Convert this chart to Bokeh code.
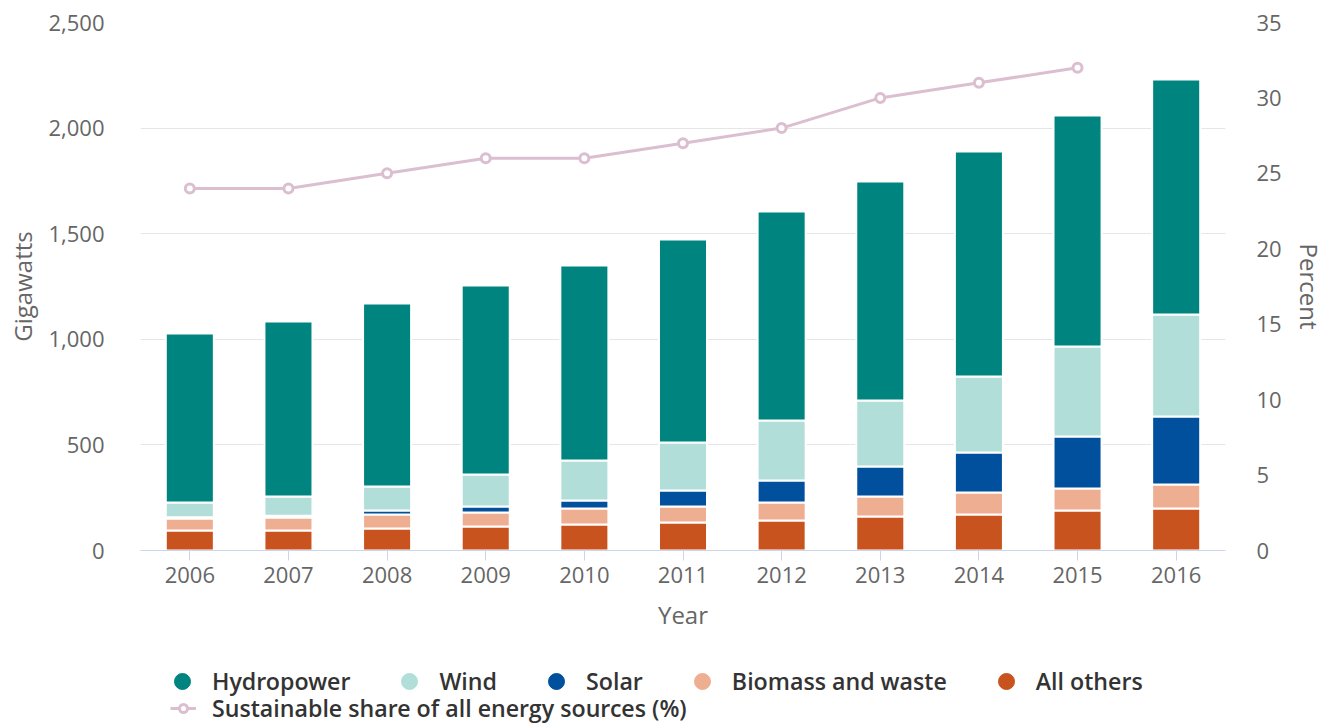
from bokeh.plotting import figure
from bokeh.models import (ColumnDataSource, FactorRange, Range1d, LinearAxis, SingleIntervalTicker,
                          NumeralTickFormatter, Legend, LegendItem)
from bokeh.layouts import column
from bokeh.embed import file_html
from bokeh.resources import INLINE

years = ["2006", "2007", "2008", "2009", "2010", "2011", "2012", "2013", "2014", "2015", "2016"]
all_others = [95, 95, 104, 114, 123, 133, 142, 161, 170, 189, 199]
biomass = [56, 61, 66, 66, 76, 75, 85, 95, 105, 105, 114]
solar = [6, 8, 19, 28, 38, 76, 104, 142, 189, 246, 321]
wind = [70, 92, 114, 152, 189, 227, 285, 312, 360, 426, 483]
hydropower = [800, 828, 867, 895, 923, 962, 989, 1037, 1065, 1094, 1113]

share_years = ["2006", "2007", "2008", "2009", "2010", "2011", "2012", "2013", "2014", "2015"]
share_pct = [24, 24, 25, 26, 26, 27, 28, 30, 31, 32]

series_names = ["All others", "Biomass and waste", "Solar", "Wind", "Hydropower"]
series_colors = ["#c8531f", "#edae92", "#00509d", "#b2ded9", "#00847f"]
line_color = "#dbbfd0"
share_label = "Sustainable share of all energy sources (%)"

FONT = "Open Sans"
LEGEND_FONT = "'Open Sans SemiBold', 'Open Sans Semibold', 'Open Sans'"

source = ColumnDataSource(dict(year=years, others=all_others, biomass=biomass,
                               solar=solar, wind=wind, hydro=hydropower))

p = figure(x_range=FactorRange(*years), y_range=Range1d(0, 2500),
           width=1331, height=650, output_backend="svg", toolbar_location=None,
           min_border_left=140, min_border_right=106, min_border_top=22, min_border_bottom=100)
p.outline_line_color = None
p.background_fill_color = "white"
p.extra_y_ranges = {"pct": Range1d(0, 35)}

stack_keys = ["others", "biomass", "solar", "wind", "hydro"]
p.vbar_stack(stack_keys, x="year", width=0.487, color=series_colors, source=source,
             line_color="white", line_width=2)

p.line(x=share_years, y=share_pct, y_range_name="pct", line_color=line_color, line_width=3)
p.scatter(x=share_years, y=share_pct, y_range_name="pct", size=9, marker="circle",
          fill_color="white", line_color=line_color, line_width=3)

# grid
p.xgrid.grid_line_color = None
p.ygrid.grid_line_color = "#e6e6e6"
p.ygrid.grid_line_width = 1
p.yaxis.ticker = SingleIntervalTicker(interval=500)
p.ygrid.ticker = SingleIntervalTicker(interval=500)

# left axis
ly = p.yaxis[0]
ly.formatter = NumeralTickFormatter(format="0,0")
ly.axis_line_color = None
ly.major_tick_line_color = None
ly.minor_tick_line_color = None
ly.major_tick_out = 0
ly.major_label_standoff = 32
ly.major_label_text_font = FONT
ly.major_label_text_font_size = "22px"
ly.major_label_text_color = "#666666"
ly.axis_label = "Gigawatts"
ly.axis_label_text_font = FONT
ly.axis_label_text_font_size = "24px"
ly.axis_label_text_font_style = "normal"
ly.axis_label_text_color = "#666666"
ly.axis_label_standoff = 6

# right axis
ry = LinearAxis(y_range_name="pct", ticker=SingleIntervalTicker(interval=5), axis_label="Percent")
ry.axis_line_color = None
ry.major_tick_line_color = None
ry.minor_tick_line_color = None
ry.major_tick_out = 0
ry.major_label_standoff = 27
ry.major_label_text_font = FONT
ry.major_label_text_font_size = "22px"
ry.major_label_text_color = "#666666"
ry.axis_label_text_font = FONT
ry.axis_label_text_font_size = "24px"
ry.axis_label_text_font_style = "normal"
ry.axis_label_text_color = "#666666"
ry.axis_label_standoff = 8
p.add_layout(ry, "right")

# x axis
xa = p.xaxis[0]
xa.axis_line_color = "#ccd6eb"
xa.axis_line_width = 1
xa.major_tick_line_color = "#ccd6eb"
xa.major_tick_out = 10
xa.major_tick_in = 0
xa.major_label_standoff = 6
xa.major_label_text_font = FONT
xa.major_label_text_font_size = "22px"
xa.major_label_text_color = "#666666"
xa.axis_label = "Year"
xa.axis_label_text_font = FONT
xa.axis_label_text_font_size = "24px"
xa.axis_label_text_font_style = "normal"
xa.axis_label_text_color = "#666666"
xa.axis_label_standoff = 12

# ---- legend strip (separate figure below the chart) ----
lg = figure(width=1331, height=76, output_backend="svg", toolbar_location=None,
            x_range=Range1d(0, 1), y_range=Range1d(0, 1), x_axis_type=None, y_axis_type=None,
            min_border_left=140, min_border_right=106, min_border_top=0, min_border_bottom=0)
lg.outline_line_color = None
lg.xgrid.grid_line_color = None
lg.ygrid.grid_line_color = None

# off-screen placeholder renderers, used only to draw legend symbols
dummies = {}
for name, col in zip(series_names, series_colors):
    dummies[name] = lg.scatter(x=[-5], y=[-5], marker="circle", fill_color=col, line_color=col)
d_line = lg.line(x=[-5, -4], y=[-5, -5], line_color=line_color, line_width=3)
d_mark = lg.scatter(x=[-5], y=[-5], marker="circle", fill_color="white",
                    line_color=line_color, line_width=3)

legend_common = dict(padding=0, margin=0, border_line_alpha=0, background_fill_alpha=0,
                     label_text_font=LEGEND_FONT, label_text_font_size="23.2px",
                     label_text_color="#333333", label_text_font_style="normal",
                     orientation="horizontal")

order = ["Hydropower", "Wind", "Solar", "Biomass and waste", "All others"]
leg1 = Legend(items=[LegendItem(label=n, renderers=[dummies[n]]) for n in order],
              location=(22, 25), glyph_width=40, glyph_height=40, label_standoff=10,
              spacing=39, **legend_common)
leg2 = Legend(items=[LegendItem(label=share_label, renderers=[d_line, d_mark])],
              location=(30, 2), glyph_width=26, glyph_height=20, label_standoff=16,
              spacing=0, **legend_common)
lg.add_layout(leg1)
lg.add_layout(leg2)

layout = column(p, lg, spacing=0)
open("out.html", "w").write(file_html(layout, INLINE))
